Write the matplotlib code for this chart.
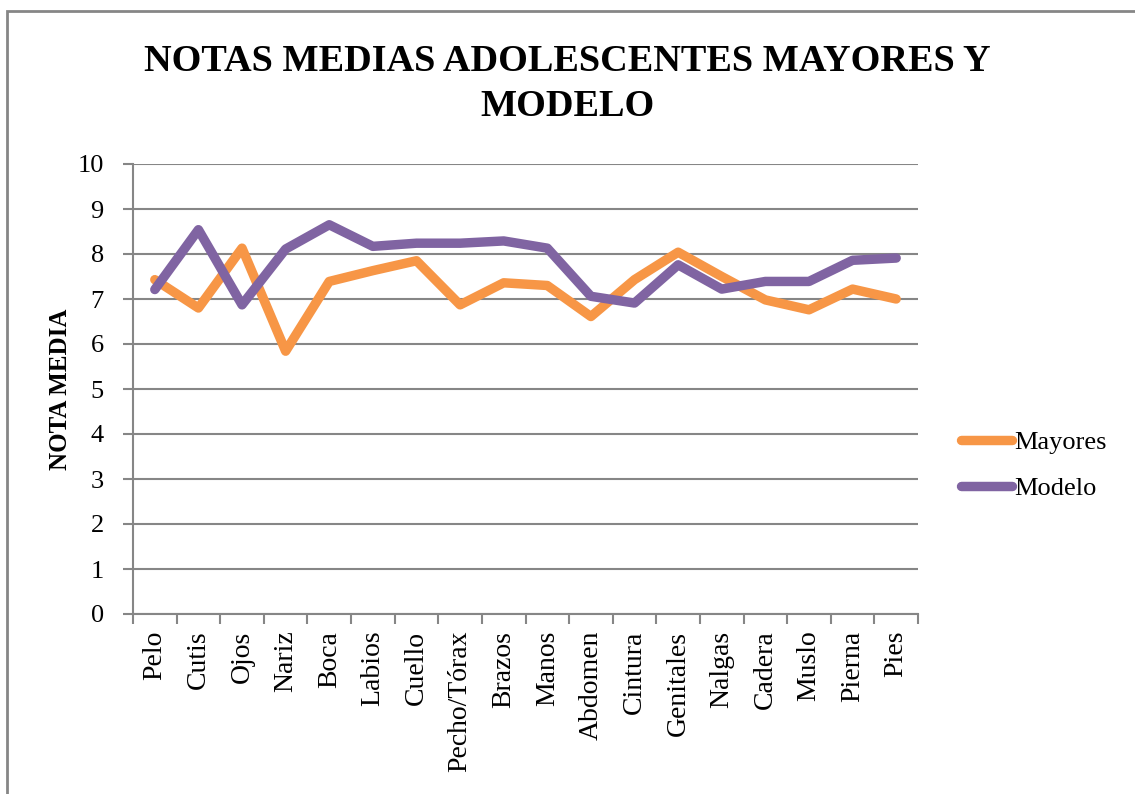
import matplotlib.pyplot as plt
import numpy as np
from matplotlib.patches import Rectangle

# ---- data ----
categories = ['Pelo', 'Cutis', 'Ojos', 'Nariz', 'Boca', 'Labios', 'Cuello', 'Pecho/Tórax',
              'Brazos', 'Manos', 'Abdomen', 'Cintura', 'Genitales', 'Nalgas', 'Cadera',
              'Muslo', 'Pierna', 'Pies']
mayores = [7.43, 6.80, 8.13, 5.84, 7.39, 7.63, 7.85, 6.87, 7.36, 7.30, 6.61, 7.43, 8.04,
           7.50, 6.98, 6.76, 7.22, 7.00]
modelo = [7.21, 8.54, 6.87, 8.11, 8.65, 8.17, 8.24, 8.24, 8.29, 8.13, 7.06, 6.91, 7.76,
          7.22, 7.39, 7.39, 7.86, 7.91]

ORANGE = '#F79646'
PURPLE = '#8064A2'
GRID = '#868686'
SERIF = ['Liberation Serif', 'DejaVu Serif']

fig = plt.figure(figsize=(11.35, 7.94), dpi=100)
ax = fig.add_axes([133 / 1135, 1 - 614 / 794, (918 - 133) / 1135, (614 - 164) / 794])

# outer chart border
fig.patches.append(Rectangle((7 / 1135, -0.05), 1.1, 1 - 11 / 794 + 0.05, transform=fig.transFigure,
                             fill=False, edgecolor=GRID, linewidth=2, zorder=0))

x = np.arange(len(categories))
ax.plot(x, mayores, color=ORANGE, linewidth=6.8, solid_capstyle='round', solid_joinstyle='round',
        label='Mayores', zorder=3)
ax.plot(x, modelo, color=PURPLE, linewidth=6.8, solid_capstyle='round', solid_joinstyle='round',
        label='Modelo', zorder=4)

ax.set_xlim(-0.5, len(categories) - 0.5)
ax.set_ylim(0, 10)
ax.set_yticks(range(0, 11))
ax.yaxis.grid(True, color=GRID, linewidth=1.5)
ax.set_axisbelow(True)

ax.set_xticks(x)
ax.set_xticklabels(categories, rotation=90, family=SERIF, fontsize=20)
ax.set_xticks(np.arange(-0.5, len(categories)), minor=True)
ax.tick_params(axis='x', which='major', length=0, pad=12)
ax.tick_params(axis='x', which='minor', length=7, width=1.5, color=GRID)
ax.tick_params(axis='y', length=7, width=1.5, color=GRID, pad=14, labelsize=19)
for lbl in ax.get_yticklabels():
    lbl.set_family(SERIF)

for s in ['top', 'right']:
    ax.spines[s].set_visible(False)
for s in ['left', 'bottom']:
    ax.spines[s].set_color(GRID)
    ax.spines[s].set_linewidth(1.5)

ax.set_ylabel('NOTA MEDIA', family=SERIF, fontweight='bold', fontsize=18, labelpad=4)

fig.text(0.5, 1 - 84 / 794, 'NOTAS MEDIAS ADOLESCENTES MAYORES Y\nMODELO', ha='center', va='center',
         family=SERIF, fontweight='bold', fontsize=27.5, linespacing=1.4)

leg = ax.legend(loc='center left', bbox_to_anchor=(1.025, 0.33), frameon=False,
                prop={'family': SERIF, 'size': 19}, handlelength=1.9, handletextpad=0.1,
                labelspacing=0.85)

fig.savefig('out.png', dpi=100)
